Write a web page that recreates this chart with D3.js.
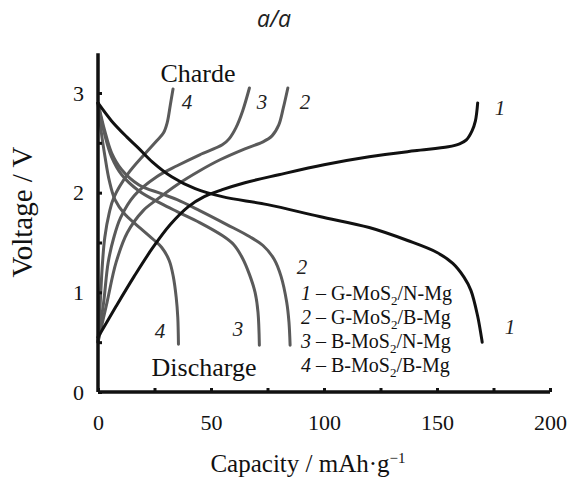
<!DOCTYPE html>
<html><head><meta charset="utf-8">
<script src="https://cdn.jsdelivr.net/npm/d3@7"></script>
<style>
html,body{margin:0;padding:0;background:#fff;}
svg{display:block;}
</style></head>
<body>
<svg id="chart" width="569" height="481"></svg>
<script>
// ---- data (Capacity mAh/g, Voltage V) ----
const seriesNames = ["1","2","3","4"];
const legendLabels = [
  ["1"," – G-MoS","2","/N-Mg"],
  ["2"," – G-MoS","2","/B-Mg"],
  ["3"," – B-MoS","2","/N-Mg"],
  ["4"," – B-MoS","2","/B-Mg"]
];
const charge1 = [[0,0.55],[8,0.86],[16,1.16],[24,1.44],[32,1.68],[40,1.86],[47,1.96],[55,2.03],[65,2.1],[80,2.18],[100,2.28],[120,2.36],[140,2.42],[155,2.46],[160,2.49],[163,2.53],[165.5,2.62],[167,2.72],[168,2.9]];
const discharge1 = [[0,2.9],[6,2.72],[12.7,2.56],[17.8,2.45],[24,2.31],[32.6,2.16],[43,2.04],[55,1.96],[75,1.88],[98,1.76],[120,1.65],[137,1.52],[150,1.4],[157,1.29],[162,1.15],[165,1.02],[168,0.76],[170,0.5]];
const charge2 = [[0,0.5],[4,0.9],[8,1.3],[13,1.6],[20,1.82],[26,1.93],[35,2.08],[45,2.22],[54,2.33],[65,2.44],[73,2.51],[77,2.57],[80,2.68],[82,2.85],[84,3.05]];
const discharge2 = [[0,2.9],[3,2.62],[6,2.4],[10.5,2.23],[18,2.08],[28,1.99],[35,1.93],[45,1.82],[57,1.68],[67,1.56],[73,1.47],[78,1.33],[81,1.16],[83.5,0.9],[84.5,0.7],[85,0.47]];
const charge3 = [[0,0.5],[2.5,0.9],[4.5,1.3],[7,1.55],[10,1.75],[16,1.97],[26,2.16],[35,2.27],[45,2.38],[55,2.48],[58,2.54],[61,2.65],[64,2.82],[67,3.05]];
const discharge3 = [[0,2.9],[3,2.58],[6,2.36],[10.5,2.18],[18,2.02],[28,1.89],[35,1.81],[45,1.7],[55,1.57],[60,1.48],[64,1.34],[67,1.18],[69.5,1.0],[70.8,0.8],[71.4,0.47]];
const charge4 = [[0,0.5],[1,0.9],[2,1.3],[3,1.55],[5,1.8],[7,1.95],[13.3,2.19],[20.8,2.39],[26,2.52],[29,2.6],[30.6,2.7],[32,2.88],[33.2,3.04]];
const discharge4 = [[0,2.9],[1.5,2.6],[3.1,2.36],[5,2.12],[7.5,1.93],[12,1.78],[16.4,1.69],[24.5,1.53],[28.2,1.45],[31.5,1.32],[33.3,1.16],[34.6,0.95],[35.3,0.75],[35.6,0.48]];
const curveLabels = [
  ["4",39.4,2.91],["3",72.6,2.91],["2",91.6,2.91],["1",177.9,2.85],
  ["2",90.3,1.26],["1",182.3,0.66],["4",27.4,0.62],["3",61.9,0.64]
];
const xTicks = [0,25,50,75,100,125,150,175,200];
const yTicks = [0,0.5,1,1.5,2,2.5,3];

const svg = d3.select("#chart");
const x = d3.scaleLinear().domain([0,200]).range([98,550]);
const y = d3.scaleLinear().domain([0,3]).range([392,93]);
const serif = "'Liberation Serif','Times New Roman',serif";

// label background boxes
svg.append("rect").attr("x",140).attr("y",58).attr("width",122).attr("height",30).attr("fill","#fff");
svg.append("rect").attr("x",140).attr("y",352).attr("width",125).attr("height",30).attr("fill","#fff");
svg.append("rect").attr("x",290).attr("y",274).attr("width",178).attr("height",103).attr("fill","#fff");

const line = d3.line().x(d=>x(d[0])).y(d=>y(d[1])).curve(d3.curveCatmullRom.alpha(0.5));
const curves = [
  [charge2,"#5a5a5a"],[discharge2,"#5a5a5a"],
  [charge3,"#5a5a5a"],[discharge3,"#5a5a5a"],
  [charge4,"#5a5a5a"],[discharge4,"#5a5a5a"],
  [charge1,"#111"],[discharge1,"#111"]
];
svg.append("g").selectAll("path").data(curves).join("path")
  .attr("d",d=>line(d[0])).attr("fill","none").attr("stroke",d=>d[1])
  .attr("stroke-width",3).attr("stroke-linecap","round").attr("stroke-linejoin","round");

// axes
const xAxis = d3.axisBottom(x).tickValues(xTicks).tickSize(-4).tickPadding(12)
  .tickFormat(d=> d%50===0 ? d : "");
const gx = svg.append("g").attr("transform","translate(0,392)").call(xAxis);
gx.select(".domain").attr("d",`M${x(0)},0H${x(200)}`).attr("stroke","#111").attr("stroke-width",3.5);
gx.selectAll(".tick line").attr("stroke","#111").attr("stroke-width",3);
gx.selectAll("text").attr("font-family",serif).attr("font-size",22).attr("fill","#111").attr("dy","1.2em");

const yAxis = d3.axisLeft(y).tickValues(yTicks).tickSize(-4).tickPadding(14)
  .tickFormat(d=> Number.isInteger(d) ? d : "");
const gy = svg.append("g").attr("transform","translate(98,0)").call(yAxis);
gy.select(".domain").attr("d",`M0,${y(0)}V${y(3.4)}`).attr("stroke","#111").attr("stroke-width",3.5);
gy.selectAll(".tick line").attr("stroke","#111").attr("stroke-width",3);
gy.selectAll("text").attr("font-family",serif).attr("font-size",22).attr("fill","#111");

// titles
svg.append("text").attr("x",274).attr("y",27).attr("text-anchor","middle")
  .attr("font-family","'Open Sans',sans-serif").attr("font-style","italic").attr("font-size",23).attr("fill","#222").text("a/a");
svg.append("text").attr("transform","translate(32,212) rotate(-90)").attr("text-anchor","middle")
  .attr("font-family",serif).attr("font-size",29).attr("fill","#111").text("Voltage / V");
const xl = svg.append("text").attr("x",308).attr("y",472).attr("text-anchor","middle")
  .attr("font-family",serif).attr("font-size",25).attr("fill","#111");
xl.append("tspan").text("Capacity / mAh·g");
xl.append("tspan").attr("dy",-9).attr("font-size",15).text("−1");

svg.append("text").attr("x",198).attr("y",82).attr("text-anchor","middle")
  .attr("font-family",serif).attr("font-size",26).attr("fill","#111").text("Charde");
svg.append("text").attr("x",204).attr("y",376).attr("text-anchor","middle")
  .attr("font-family",serif).attr("font-size",26).attr("fill","#111").text("Discharge");

// curve number labels
svg.append("g").selectAll("text").data(curveLabels).join("text")
  .attr("x",d=>x(d[1])).attr("y",d=>y(d[2])).attr("dy","0.35em").attr("text-anchor","middle")
  .attr("font-family",serif).attr("font-style","italic").attr("font-size",21).attr("fill","#222")
  .text(d=>d[0]);

// legend
const lg = svg.append("g");
legendLabels.forEach((l,i)=>{
  const t = lg.append("text").attr("x",301).attr("y",300+i*24)
    .attr("font-family",serif).attr("font-size",20).attr("fill","#111");
  t.append("tspan").attr("font-style","italic").text(l[0]);
  t.append("tspan").text(l[1]);
  t.append("tspan").attr("dy",5).attr("font-size",13).text(l[2]);
  t.append("tspan").attr("dy",-5).text(l[3]);
});
</script>
</body></html>
